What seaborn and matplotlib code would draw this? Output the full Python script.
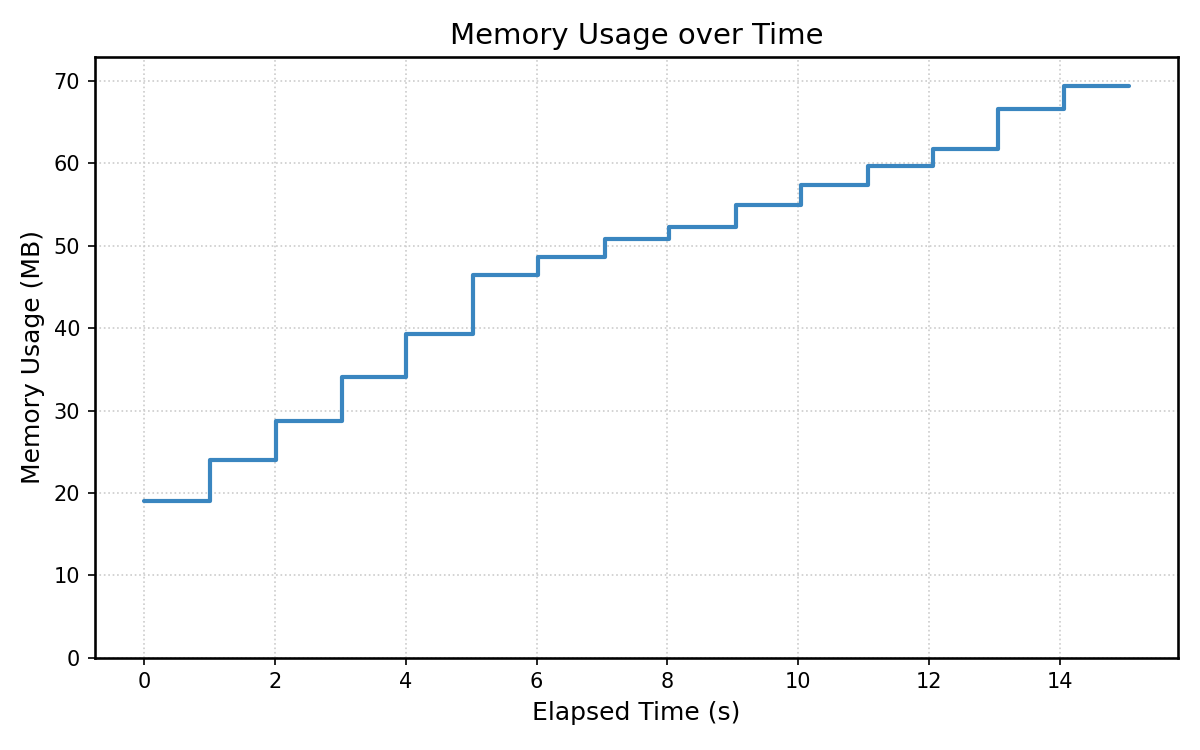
import numpy as np
import pandas as pd
import seaborn as sns
import matplotlib
matplotlib.use("Agg")
import matplotlib.pyplot as plt

# Sample times (s) and memory readings (MB)
elapsed_s = [0.0, 1.01, 2.01, 3.02, 4.01, 5.03, 6.03, 7.04, 8.02, 9.05,
             10.05, 11.06, 12.06, 13.05, 14.06, 15.06]
memory_mb = [19.05, 24.0, 28.75, 34.1, 39.3, 46.5, 48.65, 50.8, 52.3, 54.95,
             57.4, 59.7, 61.75, 66.65, 69.35, 69.35]

df = pd.DataFrame({"Elapsed Time (s)": elapsed_s, "Memory Usage (MB)": memory_mb})

sns.set_theme(style="ticks", rc={
    "axes.edgecolor": "black", "text.color": "black",
    "axes.labelcolor": "black", "xtick.color": "black", "ytick.color": "black",
})
plt.rcParams['font.family'] = ['DejaVu Sans']

fig, ax = plt.subplots(figsize=(8, 5), dpi=150)
fig.subplots_adjust(left=0.079, right=0.982, top=0.924, bottom=0.123)

sns.lineplot(data=df, x="Elapsed Time (s)", y="Memory Usage (MB)", ax=ax,
             drawstyle="steps-post", color="#3a86c0", linewidth=2)

ax.set_ylim(0, 72.9)
ax.set_xticks(np.arange(0, 15, 2))
ax.grid(True, linestyle=":", color="#cccccc", linewidth=0.8)
ax.set_title("Memory Usage over Time", fontsize=14)
ax.set_xlabel("Elapsed Time (s)", fontsize=12)
ax.set_ylabel("Memory Usage (MB)", fontsize=12)
ax.tick_params(labelsize=10, length=3.5, width=0.8)

plt.savefig("out.png", dpi=150)
